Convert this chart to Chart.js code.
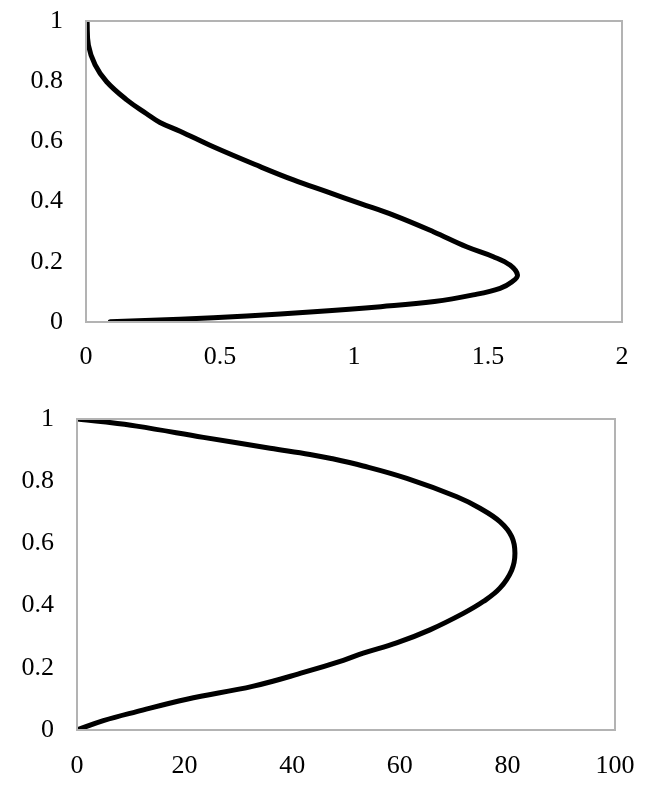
<!DOCTYPE html>
<html>
<head>
<meta charset="utf-8">
<script src="https://cdn.jsdelivr.net/npm/chart.js@4.4.1/dist/chart.umd.min.js"></script>
<style>
    body { margin: 0; background: #fff; }
    .box { position: absolute; left: 0; width: 647px; }
</style>
</head>
<body>
<div class="box" style="top:0;height:390px"><canvas id="topChart"></canvas></div>
<div class="box" style="top:390px;height:396px"><canvas id="bottomChart"></canvas></div>
<script>
// top chart: x from 0 to 2
var topX = [0.09, 0.35, 0.6, 0.85, 1.1, 1.3, 1.445, 1.545, 1.59, 1.61, 1.582, 1.52, 1.42, 1.296, 1.147, 1.022, 0.898, 0.774, 0.65, 0.475, 0.351, 0.276, 0.226, 0.152, 0.077, 0.034, 0.009, 0.004];
var topY = [0.001, 0.009, 0.02, 0.034, 0.051, 0.068, 0.09, 0.112, 0.134, 0.156, 0.189, 0.217, 0.25, 0.30, 0.355, 0.394, 0.433, 0.472, 0.516, 0.582, 0.634, 0.663, 0.692, 0.738, 0.798, 0.854, 0.92, 1.0];

// bottom chart: x from 0 to 100
var bottomX = [0, 4.9, 11.1, 20.4, 32.8, 42.1, 49.5, 53.2, 59.4, 65.6, 71.8, 75.5, 78.6, 80.8, 81.4, 80.8, 78.6, 74.9, 70.6, 61.3, 53.2, 47, 43.3, 35.9, 23.5, 11.1, 4.9, 0];
var bottomY = [0, 0.03, 0.059, 0.099, 0.141, 0.185, 0.224, 0.247, 0.28, 0.322, 0.375, 0.413, 0.456, 0.514, 0.568, 0.622, 0.67, 0.713, 0.75, 0.809, 0.849, 0.874, 0.886, 0.906, 0.941, 0.977, 0.991, 1.0];

var topXTicks = [0, 0.5, 1, 1.5, 2];
var bottomXTicks = [0, 20, 40, 60, 80, 100];
var yTicks = [0, 0.2, 0.4, 0.6, 0.8, 1];

var frame = {
    id: 'frame',
    afterDraw: function(chart) {
        var a = chart.chartArea;
        var ctx = chart.ctx;
        ctx.save();
        ctx.strokeStyle = '#b3b3b3';
        ctx.lineWidth = 2;
        ctx.strokeRect(a.left, a.top, a.right - a.left, a.bottom - a.top);
        ctx.restore();
    }
};

function plainLabel(value) {
    return String(value);
}

// labels may hang over the plot edge, so drop the padding chart.js reserves for them
function noPadding(axis) {
    axis.paddingTop = 0;
    axis.paddingBottom = 0;
    axis.paddingLeft = 0;
    axis.paddingRight = 0;
}

function makeChart(id, xs, ys, xMax, xTicks, opts) {
    var points = [];
    for (var i = 0; i < xs.length; i++) {
        points.push({ x: xs[i], y: ys[i] });
    }
    var font = { family: '"Liberation Serif", "Times New Roman", serif', size: 26 };

    return new Chart(document.getElementById(id), {
        type: 'scatter',
        data: {
            datasets: [{
                data: points,
                showLine: true,
                borderColor: '#000',
                borderWidth: 5,
                pointRadius: 0,
                tension: 0.4,
                borderCapStyle: 'round',
                borderJoinStyle: 'round'
            }]
        },
        options: {
            responsive: true,
            maintainAspectRatio: false,
            animation: false,
            layout: {
                autoPadding: false,
                padding: { left: 0, right: opts.right, top: opts.top, bottom: 0 }
            },
            plugins: { legend: { display: false }, tooltip: { enabled: false } },
            scales: {
                x: {
                    min: 0,
                    max: xMax,
                    afterBuildTicks: function(axis) {
                        axis.ticks = xTicks.map(function(v) { return { value: v }; });
                    },
                    afterFit: function(axis) {
                        axis.height = opts.xHeight;
                        noPadding(axis);
                    },
                    grid: { display: false, drawTicks: false },
                    border: { display: false },
                    ticks: { color: '#000', font: font, padding: opts.xPad, maxRotation: 0, callback: plainLabel }
                },
                y: {
                    min: 0,
                    max: 1,
                    afterBuildTicks: function(axis) {
                        axis.ticks = yTicks.map(function(v) { return { value: v }; });
                    },
                    afterFit: function(axis) {
                        axis.width = opts.yWidth;
                        noPadding(axis);
                    },
                    grid: { display: false, drawTicks: false },
                    border: { display: false },
                    ticks: { color: '#000', font: font, padding: 23, callback: plainLabel }
                }
            }
        },
        plugins: [frame]
    });
}

makeChart('topChart', topX, topY, 2, topXTicks, { right: 25, top: 21, xHeight: 68, yWidth: 86, xPad: 20 });
makeChart('bottomChart', bottomX, bottomY, 100, bottomXTicks, { right: 32, top: 29, xHeight: 56, yWidth: 77, xPad: 21 });
</script>
</body>
</html>
